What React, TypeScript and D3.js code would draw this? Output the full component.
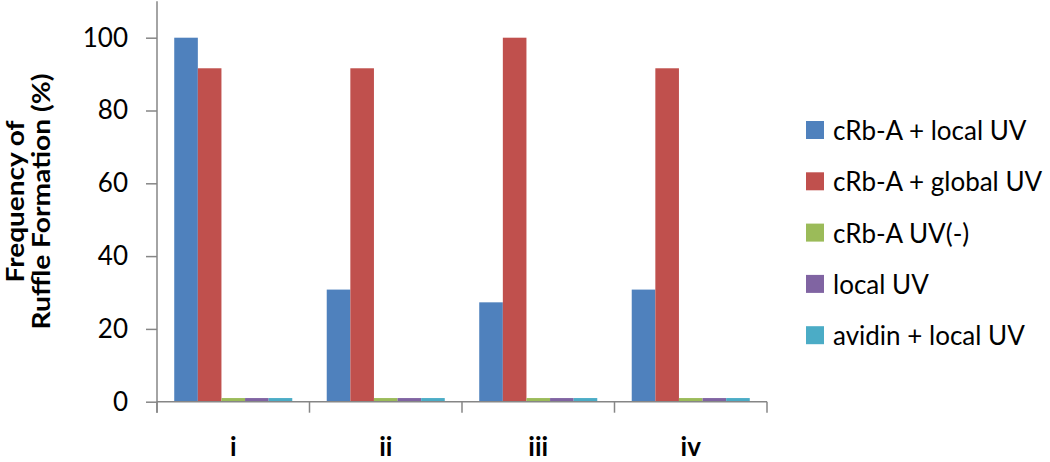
import React, { useEffect, useRef } from "react";
import * as d3 from "d3";

const categories = ["i", "ii", "iii", "iv"];
const seriesNames = [
  "cRb-A + local UV",
  "cRb-A + global UV",
  "cRb-A UV(-)",
  "local UV",
  "avidin + local UV",
];
const localUV = [100, 30.8, 27.3, 30.8];
const globalUV = [91.6, 91.6, 100, 91.6];
const uvNeg = [1, 1, 1, 1];
const localOnly = [1, 1, 1, 1];
const avidinLocal = [1, 1, 1, 1];
const yTicks = [0, 20, 40, 60, 80, 100];
const colors = ["#4F81BD", "#C0504D", "#9BBB59", "#8064A2", "#4BACC6"];

const App = () => {
  const svgRef = useRef<SVGSVGElement>(null);

  useEffect(() => {
    const width = 1050;
    const height = 462;
    const font = "Lato, 'Open Sans', sans-serif";
    const axisColor = "#868686";
    const series = [localUV, globalUV, uvNeg, localOnly, avidinLocal];

    const svg = d3.select(svgRef.current).attr("width", width).attr("height", height);
    svg.selectAll("*").remove();

    const left = 157;
    const right = 767;
    const bottom = 401.7;

    const y = d3.scaleLinear().domain([0, 110]).range([bottom, bottom - 110 * 3.64]);
    const x0 = d3.scaleBand().domain(categories).range([left, right]).padding(0);
    const x1 = d3
      .scaleBand()
      .domain(seriesNames)
      .range([0, x0.bandwidth()])
      .paddingInner(0)
      .paddingOuter(0.73);

    // bars
    const g = svg.append("g");
    categories.forEach((c, ci) => {
      series.forEach((vals, si) => {
        g.append("rect")
          .attr("x", x0(c)! + x1(seriesNames[si])!)
          .attr("y", y(vals[ci]))
          .attr("width", x1.bandwidth())
          .attr("height", y(0) - y(vals[ci]))
          .attr("fill", colors[si]);
      });
    });

    // y axis
    const yAxis = svg
      .append("g")
      .attr("transform", `translate(${left},0)`)
      .call(d3.axisLeft(y).tickValues(yTicks).tickSize(11).tickPadding(18));
    yAxis.select(".domain").remove();
    yAxis.selectAll("line").attr("stroke", axisColor).attr("stroke-width", 1.5);
    yAxis
      .selectAll("text")
      .attr("font-family", font)
      .attr("font-size", 26)
      .attr("fill", "#000");
    svg
      .append("line")
      .attr("x1", left)
      .attr("x2", left)
      .attr("y1", y(110))
      .attr("y2", bottom + 11)
      .attr("stroke", axisColor)
      .attr("stroke-width", 1.5);

    // x axis
    svg
      .append("line")
      .attr("x1", left)
      .attr("x2", right)
      .attr("y1", bottom)
      .attr("y2", bottom)
      .attr("stroke", axisColor)
      .attr("stroke-width", 1.5);
    const bounds = categories.map((c) => x0(c)!).concat([right]);
    svg
      .selectAll(".xtick")
      .data(bounds)
      .enter()
      .append("line")
      .attr("x1", (d) => d)
      .attr("x2", (d) => d)
      .attr("y1", bottom)
      .attr("y2", bottom + 11)
      .attr("stroke", axisColor)
      .attr("stroke-width", 1.5);
    svg
      .selectAll(".xlabel")
      .data(categories)
      .enter()
      .append("text")
      .attr("x", (d) => x0(d)! + x0.bandwidth() / 2)
      .attr("y", 456)
      .attr("text-anchor", "middle")
      .attr("font-family", font)
      .attr("font-weight", "bold")
      .attr("font-size", 26)
      .text((d) => d);

    // y title
    const title = svg
      .append("text")
      .attr("transform", `translate(0,${(y(110) + bottom) / 2}) rotate(-90)`)
      .attr("text-anchor", "middle")
      .attr("font-family", font)
      .attr("font-weight", "bold")
      .attr("font-size", 25);
    title
      .append("tspan")
      .attr("x", 0)
      .attr("y", 24)
      .attr("textLength", 162)
      .attr("lengthAdjust", "spacingAndGlyphs")
      .text("Frequency of");
    title
      .append("tspan")
      .attr("x", 0)
      .attr("y", 50)
      .attr("textLength", 256)
      .attr("lengthAdjust", "spacingAndGlyphs")
      .text("Ruffle Formation (%)");

    // legend
    const legend = svg
      .selectAll(".legend")
      .data(seriesNames)
      .enter()
      .append("g")
      .attr("transform", (d, i) => `translate(806,${130 + i * 51.3})`);
    legend
      .append("rect")
      .attr("x", 0)
      .attr("y", -9)
      .attr("width", 18)
      .attr("height", 18)
      .attr("fill", (d, i) => colors[i]);
    legend
      .append("text")
      .attr("x", 27)
      .attr("y", 10)
      .attr("font-family", font)
      .attr("font-size", 26)
      .text((d) => d);
  }, []);

  return <svg ref={svgRef} style={{ position: "absolute", left: 0, top: 0 }}></svg>;
};

export default App;
